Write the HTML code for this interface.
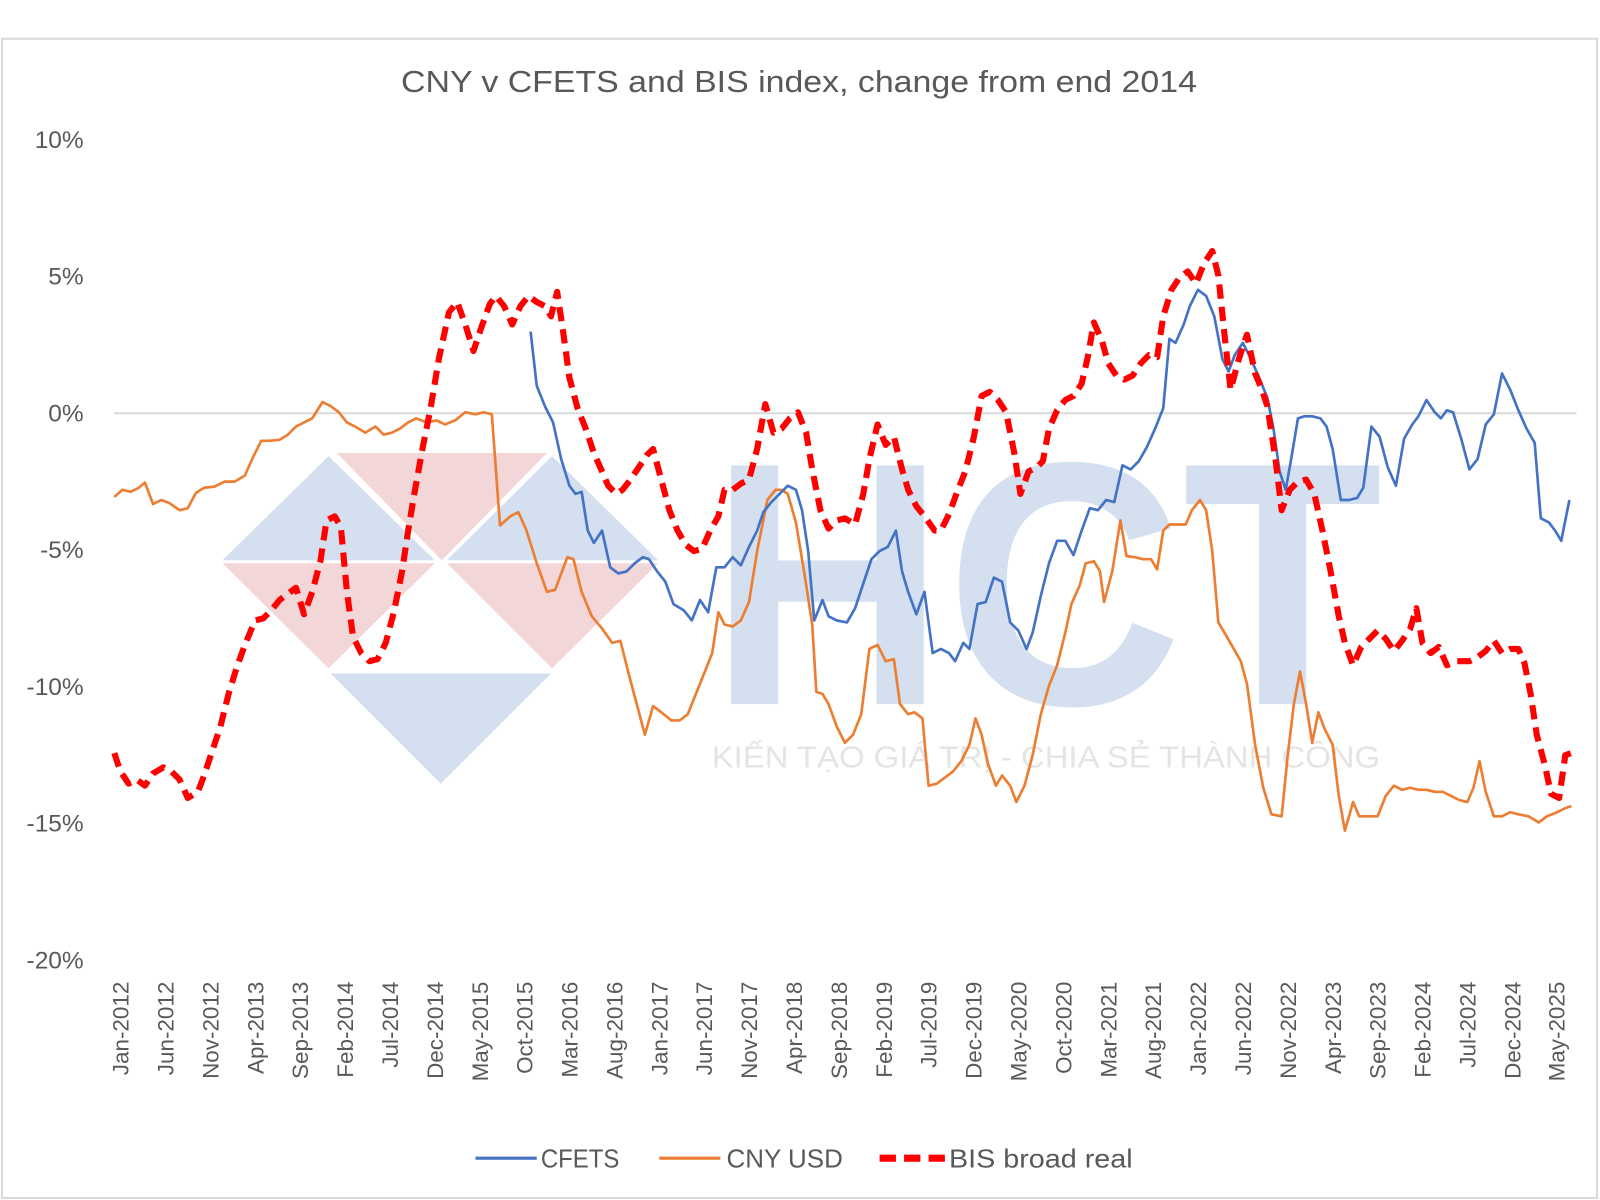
<!DOCTYPE html>
<html><head><meta charset="utf-8"><style>html,body{margin:0;padding:0;background:#fff}svg{display:block}</style></head>
<body>
<svg width="1600" height="1200" viewBox="0 0 1568 1176" preserveAspectRatio="none" font-family="'Liberation Sans', 'Noto Sans CJK SC', sans-serif">
<rect x="0" y="0" width="1568" height="1176" fill="#fff"/>
<rect x="2" y="38" width="1563" height="1136" fill="#fff" stroke="#d9d9d9" stroke-width="2"/>
<g opacity="0.75">
<polygon points="218,549 322,447 426,549" fill="#c6d6ea"/>
<polygon points="330,444 536,444 433,549" fill="#efc9cb"/>
<polygon points="438,549 541,447 645,549" fill="#c6d6ea"/>
<polygon points="218,552 426,552 322,655" fill="#efc9cb"/>
<polygon points="438,552 645,552 541,655" fill="#efc9cb"/>
<polygon points="324,660 540,660 432,768" fill="#c6d6ea"/>
<text x="1025" y="690" text-anchor="middle" font-size="340" font-weight="bold" fill="#c6d6ea" textLength="660" lengthAdjust="spacingAndGlyphs">HCT</text>
<text x="1025" y="752" text-anchor="middle" font-size="30" fill="#dcdcdc" textLength="655" lengthAdjust="spacingAndGlyphs">KIẾN TẠO GIÁ TRỊ - CHIA SẺ THÀNH CÔNG</text>
</g>
<text x="393" y="90" font-size="30" fill="#595959" textLength="780" lengthAdjust="spacingAndGlyphs">CNY v CFETS and BIS index, change from end 2014</text>
<line x1="112" y1="405" x2="1545" y2="405" stroke="#d9d9d9" stroke-width="2"/>
<g font-size="24" fill="#595959" text-anchor="end">
<text x="82" y="145">10%</text><text x="82" y="279">5%</text><text x="82" y="413">0%</text><text x="82" y="547">-5%</text><text x="82" y="681">-10%</text><text x="82" y="815">-15%</text><text x="82" y="949">-20%</text>
</g>
<g font-size="22" fill="#595959" text-anchor="end">
<text transform="translate(126,962) rotate(-90)">Jan-2012</text>
<text transform="translate(170,962) rotate(-90)">Jun-2012</text>
<text transform="translate(214,962) rotate(-90)">Nov-2012</text>
<text transform="translate(258,962) rotate(-90)">Apr-2013</text>
<text transform="translate(302,962) rotate(-90)">Sep-2013</text>
<text transform="translate(346,962) rotate(-90)">Feb-2014</text>
<text transform="translate(390,962) rotate(-90)">Jul-2014</text>
<text transform="translate(434,962) rotate(-90)">Dec-2014</text>
<text transform="translate(478,962) rotate(-90)">May-2015</text>
<text transform="translate(522,962) rotate(-90)">Oct-2015</text>
<text transform="translate(566,962) rotate(-90)">Mar-2016</text>
<text transform="translate(610,962) rotate(-90)">Aug-2016</text>
<text transform="translate(654,962) rotate(-90)">Jan-2017</text>
<text transform="translate(698,962) rotate(-90)">Jun-2017</text>
<text transform="translate(742,962) rotate(-90)">Nov-2017</text>
<text transform="translate(786,962) rotate(-90)">Apr-2018</text>
<text transform="translate(830,962) rotate(-90)">Sep-2018</text>
<text transform="translate(874,962) rotate(-90)">Feb-2019</text>
<text transform="translate(918,962) rotate(-90)">Jul-2019</text>
<text transform="translate(962,962) rotate(-90)">Dec-2019</text>
<text transform="translate(1006,962) rotate(-90)">May-2020</text>
<text transform="translate(1050,962) rotate(-90)">Oct-2020</text>
<text transform="translate(1094,962) rotate(-90)">Mar-2021</text>
<text transform="translate(1138,962) rotate(-90)">Aug-2021</text>
<text transform="translate(1182,962) rotate(-90)">Jan-2022</text>
<text transform="translate(1226,962) rotate(-90)">Jun-2022</text>
<text transform="translate(1270,962) rotate(-90)">Nov-2022</text>
<text transform="translate(1314,962) rotate(-90)">Apr-2023</text>
<text transform="translate(1358,962) rotate(-90)">Sep-2023</text>
<text transform="translate(1402,962) rotate(-90)">Feb-2024</text>
<text transform="translate(1446,962) rotate(-90)">Jul-2024</text>
<text transform="translate(1490,962) rotate(-90)">Dec-2024</text>
<text transform="translate(1533,962) rotate(-90)">May-2025</text>
</g>
<polyline fill="none" stroke="#ed7d31" stroke-width="2.6" stroke-linejoin="round" points="112,487 120,480 128,482 136,478 142,473 150,494 158,490 166,493 176,500 184,498 192,483 200,478 210,477 220,472 230,472 240,466 248,448 256,432 264,432 274,431 282,426 290,418 298,414 306,410 316,394 324,398 332,404 340,414 348,418 358,424 368,418 376,426 384,424 392,420 400,414 408,410 418,414 428,412 436,416 446,412 456,404 466,406 474,404 482,406 490,515 500,506 508,502 516,520 526,552 536,580 544,578 550,562 556,546 562,548 570,580 580,604 590,616 600,630 608,628 616,660 624,690 632,720 640,692 648,698 658,706 666,706 674,700 682,680 690,660 698,640 704,600 710,612 718,614 726,608 734,590 742,540 752,490 760,480 766,480 772,484 780,512 788,560 796,612 800,678 806,680 812,690 820,712 828,728 836,720 844,700 852,636 860,632 868,648 876,646 882,690 890,700 896,698 904,704 910,770 918,768 926,762 934,756 942,746 950,730 956,704 962,720 968,748 976,770 982,760 990,770 996,786 1004,770 1012,740 1020,700 1028,672 1036,652 1044,620 1050,592 1058,574 1064,552 1072,550 1078,560 1082,590 1090,560 1098,510 1104,545 1112,546 1120,548 1128,548 1134,558 1140,520 1146,514 1154,514 1162,514 1168,500 1176,490 1182,500 1188,540 1194,610 1200,620 1208,634 1216,648 1222,670 1230,730 1238,772 1246,798 1256,800 1262,740 1268,690 1274,658 1280,690 1286,728 1292,698 1298,714 1306,730 1312,780 1318,814 1326,786 1332,800 1340,800 1350,800 1358,780 1366,770 1374,774 1382,772 1390,774 1398,774 1406,776 1414,776 1422,780 1430,784 1438,786 1444,772 1450,746 1456,776 1464,800 1472,800 1480,796 1488,798 1498,800 1508,806 1516,800 1526,796 1534,792 1540,790"/>
<polyline fill="none" stroke="#4472c4" stroke-width="2.6" stroke-linejoin="round" points="520,325 526,378 534,398 542,414 550,450 558,476 564,484 570,482 576,520 582,532 590,520 598,556 606,562 614,560 622,552 630,546 636,548 644,560 652,570 660,592 670,598 678,608 686,588 694,600 702,556 710,556 718,546 726,554 734,536 742,520 748,502 756,492 764,484 772,476 780,480 786,500 792,540 798,608 806,588 812,604 820,608 830,610 838,596 846,572 854,548 862,540 870,536 878,520 884,560 890,580 898,602 906,580 914,640 922,636 930,640 936,648 944,630 950,636 958,592 966,590 974,566 982,570 990,610 998,618 1006,636 1012,620 1020,584 1028,552 1036,530 1044,530 1052,544 1060,520 1068,498 1076,500 1084,490 1092,492 1100,456 1108,460 1116,452 1124,438 1132,420 1140,400 1146,332 1152,336 1160,318 1166,300 1174,284 1182,290 1190,310 1198,352 1204,364 1210,348 1218,336 1226,352 1234,370 1242,390 1248,420 1254,462 1260,480 1266,446 1272,410 1278,408 1286,408 1294,410 1300,418 1306,440 1314,490 1322,490 1330,488 1336,478 1344,418 1352,428 1360,458 1368,476 1376,430 1384,416 1390,408 1398,392 1406,404 1412,410 1418,402 1424,404 1432,430 1440,460 1448,450 1456,416 1464,406 1472,366 1480,382 1488,402 1496,420 1504,434 1510,508 1518,512 1524,520 1530,530 1538,490"/>
<polyline fill="none" stroke="#ff0000" stroke-width="6" stroke-dasharray="14,8" stroke-linejoin="round" points="112,738 118,756 126,768 134,764 142,770 150,758 160,752 168,756 176,764 184,782 194,776 200,760 208,736 216,712 224,680 232,654 240,632 250,608 258,606 266,598 274,588 282,582 290,576 298,602 306,580 314,550 320,510 328,506 334,516 340,580 346,624 354,640 362,648 370,646 378,630 386,600 394,560 400,520 406,484 414,440 422,400 430,352 440,306 448,296 456,318 464,344 472,320 480,298 486,290 494,300 502,318 510,300 518,290 526,296 534,300 540,310 546,286 552,326 558,370 566,400 574,420 582,444 590,462 596,476 604,484 610,480 618,470 626,458 634,446 640,440 648,470 656,500 664,520 672,534 680,540 688,538 696,520 704,506 710,480 718,480 726,474 734,470 742,440 750,396 758,424 766,420 774,410 782,404 790,424 796,460 804,500 812,518 820,510 828,508 838,514 846,484 852,450 860,416 868,436 876,428 884,460 890,480 898,496 906,506 916,520 922,520 930,504 938,482 946,462 954,430 962,388 970,384 978,392 986,404 994,444 1000,484 1008,462 1016,458 1022,452 1028,420 1036,402 1044,392 1052,388 1060,376 1066,350 1072,316 1080,334 1086,356 1094,368 1102,372 1110,368 1118,356 1126,348 1134,350 1140,310 1148,284 1156,272 1164,266 1172,278 1180,258 1188,246 1194,270 1200,328 1206,382 1214,352 1222,328 1230,366 1236,380 1242,398 1250,450 1256,500 1264,480 1272,472 1280,470 1288,484 1296,520 1304,560 1312,604 1318,630 1326,652 1334,634 1342,626 1350,618 1358,626 1366,638 1374,628 1382,616 1388,596 1394,630 1402,640 1410,634 1418,652 1428,648 1440,648 1448,644 1456,638 1464,628 1472,640 1480,636 1488,636 1494,650 1500,680 1506,720 1514,750 1520,778 1528,782 1534,740 1540,738"/>
<line x1="466" y1="1135" x2="526" y2="1135" stroke="#4472c4" stroke-width="3"/>
<text x="530" y="1144" font-size="25" fill="#595959" textLength="77" lengthAdjust="spacingAndGlyphs">CFETS</text>
<line x1="646" y1="1135" x2="706" y2="1135" stroke="#ed7d31" stroke-width="3"/>
<text x="712" y="1144" font-size="25" fill="#595959" textLength="114" lengthAdjust="spacingAndGlyphs">CNY USD</text>
<line x1="862" y1="1135" x2="926" y2="1135" stroke="#ff0000" stroke-width="7" stroke-dasharray="16,8"/>
<text x="930" y="1144" font-size="25" fill="#595959" textLength="180" lengthAdjust="spacingAndGlyphs">BIS broad real</text>
</svg>
</body></html>
